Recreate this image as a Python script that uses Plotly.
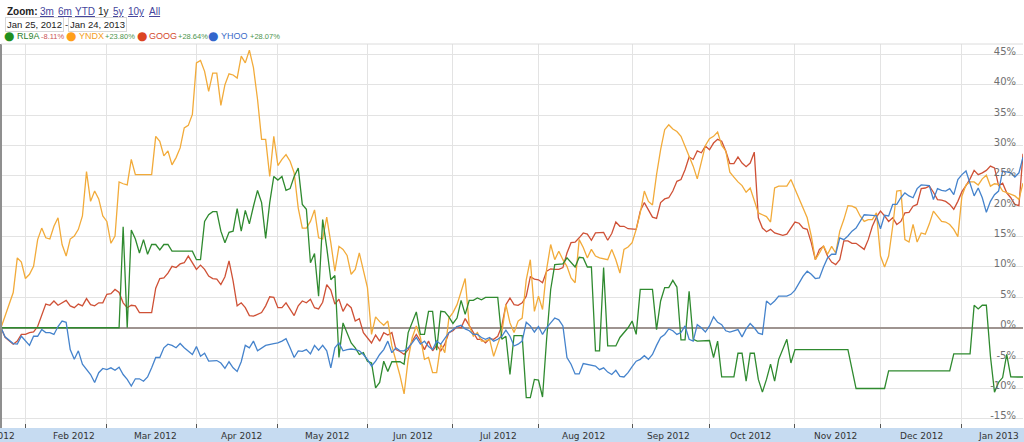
import pandas as pd
import plotly.graph_objects as go

# ---------------- data ----------------
# trading calendar (NYSE) for the displayed window
window_start = "2012-01-24"
window_end = "2013-01-24"
market_holidays = ["2012-02-20", "2012-04-06", "2012-05-28", "2012-07-04", "2012-09-03",
                   "2012-10-29", "2012-10-30", "2012-11-22", "2012-12-25", "2013-01-01",
                   "2013-01-21"]

# session number (trading days since window start) and % change
yndx_session = [0, 3, 4, 5, 6, 7, 8, 9, 10, 11,
                12, 13, 14, 15, 16, 17, 18, 19, 20, 21,
                22, 23, 24, 25, 26, 27, 28, 29, 30, 31,
                32, 33, 37, 38, 39, 40, 41, 42, 43, 44,
                45, 46, 47, 48, 49, 50, 51, 52, 53, 54,
                55, 56, 57, 58, 59, 60, 61, 62, 63, 64,
                65, 66, 67, 68, 69, 70, 71, 72, 73, 74,
                75, 76, 77, 78, 79, 80, 81, 82, 83, 84,
                85, 86, 87, 88, 90, 91, 92, 93, 94, 95,
                96, 97, 98, 99, 100, 101, 102, 103, 104, 105,
                106, 107, 108, 109, 110, 111, 112, 114, 115, 116,
                117, 118, 119, 120, 121, 122, 123, 124, 125, 126,
                127, 128, 129, 130, 131, 132, 133, 134, 135, 136,
                137, 138, 139, 140, 141, 142, 143, 144, 145, 146,
                147, 149, 150, 151, 152, 153, 154, 155, 156, 157,
                158, 159, 160, 161, 162, 163, 164, 165, 166, 167,
                168, 169, 170, 171, 172, 173, 174, 175, 176, 177,
                178, 179, 180, 181, 182, 183, 184, 185, 186, 187,
                188, 189, 190, 191, 193, 194, 195, 196, 197, 198,
                199, 200, 201, 202, 203, 204, 205, 206, 207, 208,
                209, 210, 211, 212, 213, 214, 215, 216, 217, 218,
                219, 220, 221, 222, 223, 224, 225, 226, 227, 228,
                229, 230, 231, 232, 233, 234, 235, 236, 237, 238,
                239, 240, 241, 242, 243, 244, 245, 246, 247, 248,
                249, 250, 251]
yndx_pct = [0.0, 5.8, 11.5, 10.8, 8.1, 8.8, 10.1, 14.5, 16.4, 14.8,
            14.6, 16.7, 18.1, 13.7, 11.8, 14.6, 15.1, 16.2, 18.4, 25.7,
            20.8, 22.5, 21.2, 18.4, 17.5, 13.9, 15.1, 24.0, 23.7, 23.5,
            27.7, 25.2, 25.2, 31.5, 30.7, 28.3, 29.1, 26.8, 28.0, 29.6,
            32.9, 33.3, 35.1, 43.6, 44.0, 42.2, 38.9, 41.9, 41.9, 36.6,
            40.0, 41.8, 41.6, 41.1, 44.7, 43.6, 45.7, 42.8, 37.6, 31.0,
            31.0, 24.9, 31.5, 26.7, 27.7, 28.5, 27.4, 25.5, 19.7, 16.4,
            16.4, 17.5, 19.4, 14.8, 14.6, 18.2, 14.0, 9.3, 13.4, 12.9,
            11.9, 8.8, 9.6, 12.3, 6.6, -1.1, 1.8, 1.0, 0.4, 1.1,
            -3.0, -5.5, -7.9, -10.9, -5.2, -1.6, 0.3, -1.6, -5.2, -4.9,
            -7.4, -7.4, -2.7, -4.1, 1.6, 2.5, 3.8, 8.1, 0.3, -1.4,
            -0.8, -2.2, -2.2, -1.9, -4.7, -2.7, -0.8, 3.8, 0.8, -0.8,
            1.1, 1.6, 7.9, 11.2, 2.7, 5.2, 3.0, 9.6, 13.7, 11.2,
            12.6, 11.2, 10.1, 8.2, 7.4, 14.5, 13.2, 11.5, 12.9, 11.8,
            11.5, 11.2, 12.9, 11.2, 9.0, 12.9, 13.3, 14.0, 16.2, 18.9,
            22.5, 20.8, 20.2, 25.2, 29.3, 32.6, 33.4, 32.7, 32.3, 31.5,
            29.9, 28.0, 26.6, 24.5, 27.1, 30.0, 31.1, 31.5, 32.2, 30.0,
            29.1, 25.6, 24.8, 24.0, 23.4, 22.3, 23.0, 21.1, 18.9, 18.6,
            18.3, 17.4, 23.0, 23.3, 23.3, 24.4, 22.8, 21.1, 19.5, 18.1,
            15.1, 11.2, 12.3, 13.5, 12.1, 13.4, 12.3, 15.9, 17.8, 20.1,
            20.0, 19.7, 18.4, 17.5, 17.8, 17.8, 18.9, 11.8, 10.0, 11.8,
            16.7, 22.5, 22.6, 14.5, 14.1, 17.0, 14.1, 15.6, 15.4, 17.1,
            19.2, 18.4, 17.5, 17.4, 17.0, 16.2, 15.0, 21.7, 23.5, 24.0,
            24.0, 23.5, 24.5, 25.1, 23.3, 23.7, 23.6, 22.5, 22.2, 21.9,
            21.7, 21.1, 23.80]

goog_session = [0, 1, 3, 4, 5, 6, 7, 8, 9, 10,
                11, 12, 13, 14, 15, 16, 17, 18, 19, 20,
                21, 22, 23, 24, 25, 26, 27, 28, 29, 30,
                31, 32, 33, 34, 35, 37, 38, 39, 40, 41,
                42, 43, 44, 45, 46, 47, 48, 49, 50, 51,
                52, 53, 54, 55, 56, 57, 58, 59, 60, 61,
                62, 64, 65, 66, 67, 68, 69, 70, 72, 73,
                74, 75, 76, 77, 78, 79, 80, 81, 82, 83,
                84, 85, 86, 87, 88, 89, 91, 92, 93, 94,
                95, 96, 97, 98, 99, 100, 101, 102, 103, 104,
                105, 106, 107, 108, 109, 110, 111, 112, 113, 114,
                115, 116, 117, 118, 119, 120, 121, 122, 123, 124,
                125, 126, 127, 128, 129, 130, 131, 132, 133, 134,
                135, 136, 137, 138, 139, 140, 141, 142, 143, 144,
                145, 146, 147, 148, 149, 150, 151, 152, 153, 154,
                156, 157, 158, 159, 160, 161, 162, 163, 164, 165,
                166, 167, 168, 169, 170, 171, 172, 173, 174, 175,
                176, 177, 178, 179, 180, 181, 182, 183, 184, 185,
                186, 187, 188, 189, 190, 191, 192, 193, 194, 195,
                196, 197, 198, 199, 200, 201, 202, 203, 204, 205,
                206, 207, 208, 209, 210, 211, 212, 213, 214, 215,
                216, 217, 218, 219, 220, 221, 222, 223, 224, 225,
                226, 227, 228, 229, 230, 231, 232, 233, 234, 235,
                236, 237, 238, 239, 240, 241, 242, 243, 244, 245,
                246, 247, 248, 249, 250, 251]
goog_pct = [0.0, -1.6, -2.7, -2.2, -1.1, -1.1, -0.8, -0.7, 0.2, 2.2,
            3.9, 3.7, 4.4, 3.7, 4.1, 4.5, 3.6, 3.3, 3.9, 3.6,
            4.8, 3.8, 3.6, 4.1, 4.1, 5.5, 5.6, 6.3, 5.8, 4.1,
            3.3, 3.7, 3.6, 2.5, 2.5, 2.5, 6.5, 8.1, 8.2, 9.0,
            10.1, 9.9, 10.5, 10.7, 11.8, 10.7, 9.6, 10.3, 9.6, 8.5,
            8.1, 8.0, 7.1, 8.4, 11.0, 7.7, 3.6, 4.1, 3.3, 2.0,
            1.9, 2.5, 3.6, 5.1, 5.0, 3.3, 3.3, 4.1, 2.0, 3.6,
            4.4, 4.1, 4.7, 3.3, 3.1, 4.2, 7.1, 6.2, 3.9, 4.7,
            2.7, 3.9, 3.3, 1.1, 1.5, -0.8, -2.5, -1.2, -2.2, -0.8,
            -1.2, -0.8, -3.6, -3.9, -4.4, -3.6, -2.2, -1.1, -2.2, -3.6,
            -2.2, -3.8, -2.9, -3.8, -2.7, -0.8, -0.5, 0.2, 0.0, 1.5,
            0.4, -0.7, -1.9, -1.9, -2.5, -1.8, -1.9, -1.4, 0.3, 3.8,
            4.9, 3.8, 3.7, 4.1, 5.2, 8.4, 8.0, 7.9, 7.4, 9.3,
            9.7, 9.6, 9.6, 9.9, 12.3, 14.0, 14.1, 14.8, 15.6, 15.4,
            14.4, 15.6, 15.6, 15.7, 14.4, 15.5, 17.4, 16.7, 16.7, 16.3,
            16.2, 19.2, 20.6, 19.5, 18.2, 18.0, 20.6, 21.2, 21.4, 22.5,
            24.1, 24.4, 26.0, 28.1, 27.7, 29.1, 28.8, 29.9, 29.3, 30.4,
            31.0, 30.7, 29.1, 27.0, 27.0, 28.1, 27.1, 26.5, 27.1, 28.9,
            18.1, 16.4, 15.8, 16.2, 15.6, 15.4, 15.2, 15.4, 16.4, 17.4,
            17.2, 16.4, 16.2, 14.0, 11.2, 12.9, 13.4, 11.8, 10.8, 10.4,
            11.2, 14.3, 14.3, 13.9, 13.9, 13.4, 12.9, 14.5, 16.7, 18.2,
            19.2, 18.4, 17.5, 18.1, 17.0, 17.5, 18.9, 19.0, 20.0, 20.3,
            22.9, 23.0, 23.3, 22.3, 21.1, 21.0, 20.8, 20.3, 19.5, 20.8,
            22.4, 23.4, 24.5, 25.9, 25.2, 25.5, 25.9, 26.6, 26.3, 23.4,
            23.8, 22.2, 21.4, 20.3, 20.1, 28.64]

yhoo_session = [0, 1, 3, 4, 5, 6, 7, 8, 9, 10,
                11, 12, 13, 14, 15, 16, 17, 18, 19, 20,
                21, 22, 23, 24, 25, 26, 27, 28, 29, 30,
                31, 32, 33, 34, 35, 36, 37, 38, 39, 40,
                41, 42, 43, 44, 45, 46, 47, 48, 49, 50,
                51, 53, 54, 55, 56, 57, 58, 59, 60, 61,
                62, 63, 64, 65, 67, 68, 69, 70, 71, 72,
                73, 74, 75, 76, 77, 78, 79, 80, 81, 82,
                83, 84, 85, 86, 87, 88, 89, 90, 91, 92,
                93, 94, 95, 96, 97, 98, 99, 100, 101, 102,
                103, 104, 105, 106, 107, 108, 110, 111, 112, 113,
                114, 115, 116, 117, 118, 119, 120, 121, 122, 123,
                124, 125, 126, 127, 128, 129, 130, 131, 132, 133,
                134, 135, 136, 137, 138, 139, 140, 141, 142, 143,
                144, 145, 146, 147, 148, 149, 150, 151, 152, 153,
                154, 155, 156, 157, 158, 159, 160, 161, 162, 163,
                164, 165, 166, 167, 168, 169, 170, 171, 172, 173,
                174, 175, 176, 177, 178, 179, 181, 182, 183, 184,
                185, 186, 187, 188, 189, 190, 191, 193, 194, 195,
                196, 197, 198, 199, 200, 201, 202, 203, 204, 205,
                206, 207, 208, 209, 210, 211, 212, 214, 215, 216,
                217, 218, 219, 220, 221, 222, 223, 224, 225, 226,
                228, 229, 230, 231, 232, 233, 234, 235, 236, 237,
                238, 239, 240, 241, 242, 243, 244, 245, 246, 247,
                248, 249, 250, 251]
yhoo_pct = [0.0, -1.5, -2.6, -2.7, -1.4, -2.2, -2.9, -1.4, -1.4, -0.3,
            -0.8, -0.8, -1.1, 0.2, 1.1, 0.9, -3.6, -5.2, -3.8, -6.0,
            -6.9, -7.7, -9.0, -7.4, -6.7, -6.9, -6.6, -7.0, -6.5, -7.7,
            -8.5, -9.6, -8.4, -8.4, -8.8, -8.1, -6.6, -4.9, -4.9, -3.3,
            -2.7, -2.9, -3.3, -2.6, -3.3, -3.9, -4.4, -3.1, -4.7, -4.2,
            -5.5, -5.4, -5.8, -6.7, -5.6, -6.6, -7.2, -5.6, -2.9, -3.3,
            -2.2, -3.8, -3.3, -2.9, -2.6, -2.5, -2.2, -1.8, -3.3, -4.9,
            -3.8, -3.9, -3.6, -4.3, -2.9, -3.7, -2.9, -3.8, -6.6, -3.3,
            -2.5, -3.8, -3.6, -3.5, -3.6, -3.8, -4.4, -5.2, -6.3, -5.5,
            -4.4, -3.6, -2.2, -4.1, -3.3, -3.8, -3.8, -3.3, -2.5, -1.6,
            -2.7, -2.2, -3.1, -3.6, -2.2, -2.7, -0.8, -0.3, 0.2, 0.4,
            -0.2, -0.5, -1.1, -1.1, -1.6, -1.9, -1.6, -2.2, -1.9, -1.4,
            -0.4, -1.4, -3.0, -2.7, -2.2, 0.9, 0.3, -0.7, 0.2, -1.1,
            0.0, 0.8, 1.6, 1.3, 0.3, -4.9, -6.0, -7.6, -7.6, -5.9,
            -6.0, -6.2, -6.3, -6.9, -6.6, -7.3, -7.7, -7.0, -8.0, -8.1,
            -7.4, -6.4, -5.5, -5.2, -4.6, -5.2, -4.4, -2.9, -1.6, -1.1,
            -0.2, -0.5, -1.1, -0.8, 0.3, -1.9, -2.2, 0.5, 0.0, -0.7,
            0.3, 1.8, 0.9, 0.5, -0.5, -0.7, -0.3, -1.5, -0.2, 0.7,
            0.0, -0.9, -1.1, 4.4, 3.8, 4.4, 5.2, 5.2, 5.5, 6.2,
            7.3, 8.5, 9.3, 8.8, 8.1, 8.2, 10.0, 11.5, 12.1, 12.1,
            14.8, 14.5, 15.1, 15.9, 16.4, 17.5, 18.6, 18.5, 18.4, 16.3,
            18.5, 18.4, 20.3, 20.3, 21.4, 22.2, 21.7, 21.4, 22.9, 23.5,
            23.4, 21.1, 22.9, 22.6, 22.5, 22.9, 21.9, 24.4, 25.2, 25.8,
            23.7, 21.7, 23.0, 21.4, 19.0, 20.8, 21.9, 22.5, 25.8, 25.6,
            25.5, 24.8, 25.5, 28.07]

rl9a_session = [0, 29, 30, 31, 32, 33, 34, 35, 36, 37,
                38, 39, 40, 41, 42, 47, 48, 49, 50, 51,
                52, 53, 54, 55, 56, 57, 58, 59, 60, 61,
                62, 63, 64, 65, 66, 67, 68, 69, 70, 71,
                72, 73, 74, 75, 76, 77, 78, 79, 80, 81,
                82, 83, 84, 85, 86, 87, 88, 89, 90, 91,
                92, 93, 94, 95, 96, 98, 99, 100, 101, 102,
                103, 104, 105, 106, 107, 108, 109, 110, 111, 112,
                113, 114, 115, 116, 117, 118, 119, 122, 123, 124,
                125, 126, 128, 129, 130, 131, 132, 133, 134, 135,
                136, 138, 139, 140, 141, 142, 143, 144, 145, 146,
                147, 148, 149, 151, 152, 154, 155, 156, 157, 160,
                161, 162, 163, 164, 165, 166, 167, 168, 169, 170,
                171, 174, 175, 176, 177, 180, 181, 182, 183, 184,
                185, 186, 187, 188, 189, 190, 191, 193, 194, 195,
                208, 210, 217, 218, 233, 234, 238, 239, 240, 241,
                242, 243, 244, 245, 246, 247, 248, 251]
rl9a_pct = [0.0, 0.0, 16.6, 0.0, 16.1, 14.6, 12.3, 14.5, 12.1, 13.7,
            13.7, 12.8, 13.7, 13.7, 12.6, 12.6, 11.2, 11.2, 17.5, 18.6,
            19.1, 19.1, 15.9, 14.0, 15.7, 15.9, 19.6, 15.9, 19.3, 17.1,
            20.0, 22.6, 20.6, 14.7, 20.6, 24.9, 24.3, 24.9, 22.6, 22.9,
            24.9, 26.3, 20.3, 19.5, 10.7, 12.2, 5.2, 17.8, 13.2, 7.9,
            8.6, -4.9, 0.8, -0.8, -2.5, -3.3, -4.4, -4.1, -5.5, -5.8,
            -9.9, -9.0, -5.5, -7.2, -5.6, -5.6, -6.0, -0.8, 0.8, 2.6,
            -1.1, -1.1, 2.7, 2.7, -3.7, 2.7, 2.6, 1.8, 0.7, 1.6,
            4.5, 2.2, 4.5, 4.5, 4.9, 4.6, 5.0, 5.0, -1.9, -1.4,
            -7.7, -1.3, -1.3, -11.5, -11.5, -8.5, -8.6, -11.4, -1.9, 6.3,
            10.4, 10.5, 11.5, 10.8, 10.0, 11.6, 11.5, 10.0, 10.0, -3.8,
            -3.8, 9.9, -3.0, -3.0, -1.6, 0.0, 1.1, -1.1, 6.3, 6.3,
            -0.3, 4.4, 6.6, 6.6, 7.8, 6.7, -2.0, -2.0, 6.0, -1.9,
            -2.2, -2.1, -4.9, -2.2, -8.1, -8.1, -4.2, -4.2, -8.8, -4.2,
            -4.2, -8.5, -10.6, -8.5, -6.0, -8.8, -5.2, -1.9, -5.8, -3.6,
            -3.6, -10.0, -10.0, -7.1, -7.1, -4.3, -4.3, 3.7, 3.1, 3.7,
            3.7, -4.7, -10.6, -9.0, -8.2, -4.4, -8.1, -8.11]

series_names = ["RL9A", "YNDX", "GOOG", "YHOO"]
series_change = ["-8.11%", "+23.80%", "+28.64%", "+28.07%"]
y_tick_vals = [-15, -10, -5, 0, 5, 10, 15, 20, 25, 30, 35, 40, 45]
y_tick_text = ["-15%", "-10%", "-5%", "0%", "5%", "10%", "15%", "20%", "25%",
               "30%", "35%", "40%", "45%"]
month_label_dates = ["2012-02-17", "2012-03-19", "2012-04-18", "2012-05-17", "2012-06-18",
                     "2012-07-18", "2012-08-16", "2012-09-17", "2012-10-15", "2012-11-15",
                     "2012-12-17", "2013-01-15"]
month_labels = ["Feb 2012", "Mar 2012", "Apr 2012", "May 2012", "Jun 2012", "Jul 2012",
                "Aug 2012", "Sep 2012", "Oct 2012", "Nov 2012", "Dec 2012", "Jan 2013"]
first_month_label = "Jan 2012"
zoom_links = ["3m", "6m", "YTD", "1y", "5y", "10y", "All"]
date_from = "Jan 25, 2012"
date_to = "Jan 24, 2013"

# ---------------- styling ----------------
line_colors = {"RL9A": "#2f8a2f", "YNDX": "#f2ab3a", "GOOG": "#cf5136", "YHOO": "#4583cc"}
dot_colors = {"RL9A": "#1f8f1f", "YNDX": "#ff9f1a", "GOOG": "#dc4422", "YHOO": "#3366cc"}
name_colors = {"RL9A": "#2a7f2a", "YNDX": "#f5a024", "GOOG": "#d4492c", "YHOO": "#3a6cc8"}

W, H = 1024, 442
ML, MR, MT, MB = 1, 1, 44, 14
PW, PH = W - ML - MR, H - MT - MB

def px(x):
    return (x - ML) / PW

def py(y):
    return (H - MB - y) / PH

trading_days = pd.bdate_range(window_start, window_end)
trading_days = trading_days[~trading_days.isin(pd.to_datetime(market_holidays))]
x_range = [trading_days[0], trading_days[-1]]
x_breaks = [dict(bounds=["sat", "mon"]), dict(values=market_holidays)]

series = {
    "GOOG": (goog_session, goog_pct),
    "YNDX": (yndx_session, yndx_pct),
    "RL9A": (rl9a_session, rl9a_pct),
    "YHOO": (yhoo_session, yhoo_pct),
}

fig = go.Figure()
for name, (sess, pct) in series.items():
    fig.add_trace(go.Scatter(
        x=trading_days[sess], y=pct, mode="lines", name=name,
        line=dict(color=line_colors[name], width=1.3), showlegend=False,
        hoverinfo="skip"))

fig.update_layout(
    width=W, height=H,
    margin=dict(l=ML, r=MR, t=MT, b=MB, pad=0),
    paper_bgcolor="white", plot_bgcolor="white",
    font=dict(family="Liberation Sans, Arial", size=10, color="#333"),
    xaxis=dict(
        type="date", range=x_range, rangebreaks=x_breaks,
        dtick="M1", tick0="2012-01-01", showticklabels=False,
        ticks="inside", ticklen=4, tickcolor="#555", tickwidth=1,
        showgrid=True, gridcolor="#e3e3e3", gridwidth=1,
        zeroline=False, showline=False, fixedrange=True,
    ),
    yaxis=dict(
        side="right", range=[-16.5, 46.7],
        tickvals=y_tick_vals, ticktext=y_tick_text,
        ticklabelposition="inside", ticks="",
        ticklabelshift=-3, ticklabelstandoff=4,
        showgrid=True, gridcolor="#e3e3e3", gridwidth=1,
        zeroline=True, zerolinecolor="#9e9490", zerolinewidth=2,
        showline=False,
        tickfont=dict(family="DejaVu Sans", size=10, color="#707070"),
        fixedrange=True,
    ),
    hovermode=False,
)

shapes = [
    # date band under the plot
    dict(type="rect", xref="paper", yref="paper", x0=-0.01, x1=1.01, y0=py(H), y1=0,
         fillcolor="#c6dbf1", line=dict(width=0), layer="below"),
    # left frame line
    dict(type="line", xref="paper", yref="paper", x0=0, x1=0, y0=0, y1=1,
         line=dict(color="#8f8f8f", width=2)),
    # top frame line
    dict(type="line", xref="paper", yref="paper", x0=0, x1=1, y0=1, y1=1,
         line=dict(color="#dcdcdc", width=1)),
]
fig.update_layout(shapes=shapes)

ann = []
# month labels in the date band, placed on the date axis
for d, lab in zip(month_label_dates, month_labels):
    ann.append(dict(text=lab, x=d, xref="x", y=py(435.5), yref="paper",
                    xanchor="center", yanchor="middle",
                    font=dict(family="DejaVu Sans", size=9, color="#333")))
# partially visible first month label at the left edge (cut off as in the original)
ann.append(dict(text=first_month_label, x=px(-6), xref="paper", y=py(435.5), yref="paper",
                xanchor="center", yanchor="middle",
                font=dict(family="DejaVu Sans", size=9, color="#333")))
# Zoom row
ann.append(dict(text="<b>Zoom:</b>", x=px(5), y=py(11), xanchor="left", yanchor="middle",
                font=dict(family="Liberation Sans", size=10, color="#222")))
link_x = [38, 56, 73, 96, 111, 126, 147]
for lab, lx in zip(zoom_links, link_x):
    if lab == "1y":
        txt, col = lab, "#222"
    else:
        txt, col = f"<u>{lab}</u>", "#45459c"
    ann.append(dict(text=txt, x=px(lx), y=py(11), xanchor="left", yanchor="middle",
                    font=dict(family="Liberation Sans", size=10, color=col)))
# date range row
ann.append(dict(text=date_from, x=px(5), y=py(24), xanchor="left", yanchor="middle",
                font=dict(family="Liberation Sans", size=9.5, color="#222"),
                bordercolor="#d8d8d8", borderwidth=1, borderpad=1, bgcolor="white"))
ann.append(dict(text="-", x=px(63), y=py(24), xanchor="left", yanchor="middle",
                font=dict(family="Liberation Sans", size=9.5, color="#222")))
ann.append(dict(text=date_to, x=px(68), y=py(24), xanchor="left", yanchor="middle",
                font=dict(family="Liberation Sans", size=9.5, color="#222"),
                bordercolor="#d8d8d8", borderwidth=1, borderpad=1, bgcolor="white"))
# legend row
dot_x = [9, 71, 142, 213]
name_x = [15, 77, 147, 219]
chg_x = [38.5, 102.5, 175.5, 247.5]
for nm, chg, dx, nx, cx in zip(series_names, series_change, dot_x, name_x, chg_x):
    ann.append(dict(text="●", x=px(dx), y=py(36), xanchor="center", yanchor="middle",
                    font=dict(family="DejaVu Sans", size=12, color=dot_colors[nm])))
    ann.append(dict(text=nm, x=px(nx), y=py(36), xanchor="left", yanchor="middle",
                    font=dict(family="Liberation Sans", size=9, color=name_colors[nm])))
    ann.append(dict(text=chg, x=px(cx), y=py(36.5), xanchor="left", yanchor="middle",
                    font=dict(family="Liberation Sans", size=7.5,
                              color="#cc5555" if chg.startswith("-") else "#4d944d")))
for a in ann:
    a.setdefault("xref", "paper")
    a.setdefault("yref", "paper")
    a["showarrow"] = False
fig.update_layout(annotations=ann)

fig.write_html("out.html", include_plotlyjs=True, full_html=True,
               config={"displayModeBar": False},
               post_script="document.body.style.margin='0';document.body.style.overflow='hidden';")
